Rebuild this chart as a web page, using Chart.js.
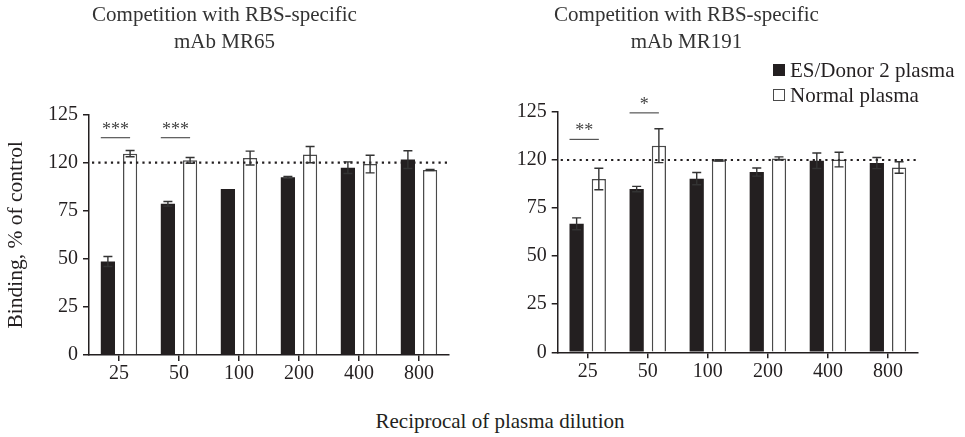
<!DOCTYPE html>
<html>
<head>
<meta charset="utf-8">
<script src="https://cdn.jsdelivr.net/npm/chart.js@4.4.1/dist/chart.umd.min.js"></script>
<style>
  body { margin: 0; background: #fff; width: 965px; height: 437px; position: relative; overflow: hidden; }
  canvas { position: absolute; top: 0; }
  #left { left: 0; }
  #right { left: 455px; }
  #xtitle { position: absolute; left: 250px; width: 500px; top: 409px; text-align: center;
            font-family: 'Liberation Serif', serif; font-size: 21px; color: #231f20; }
</style>
</head>
<body>
<canvas id="left" width="460" height="400"></canvas>
<canvas id="right" width="510" height="400"></canvas>
<div id="xtitle">Reciprocal of plasma dilution</div>
<script>
// data
var dilutions = ['25', '50', '100', '200', '400', '800']
var yTickLabels = ['0', '25', '50', '75', '120', '125']
var seriesNames = ['ES/Donor 2 plasma', 'Normal plasma']

var mr65Donor = [48.6, 78.6, 86.3, 92.4, 97.4, 101.6]
var mr65DonorErr = [2.6, 1.2, 0, 0.5, 3.0, 4.6]
var mr65Normal = [104.7, 101.2, 102.4, 104.2, 99.3, 96.2]
var mr65NormalErr = [1.6, 1.5, 3.6, 4.2, 4.6, 0.3]

var mr191Donor = [66.8, 84.9, 90.3, 93.7, 99.6, 98.4]
var mr191DonorErr = [3.1, 1.4, 3.2, 2.1, 4.0, 2.9]
var mr191Normal = [90.1, 107.4, 99.8, 100.8, 100.2, 96.1]
var mr191NormalErr = [5.6, 8.8, 0.3, 0.8, 3.8, 3.0]

var refLine = 100
var sigMR65 = [{cat: 0, text: '***', y: 113}, {cat: 1, text: '***', y: 113}]
var sigMR191 = [{cat: 0, text: '**', y: 110.7}, {cat: 1, text: '*', y: 124.5}]

const INK = '#231f20'
const FONT = 'Liberation Serif'

// error bars, dotted 100% line, significance marks
const extras = {
  id: 'extras',
  afterDatasetsDraw(chart, args, opts) {
    const ctx = chart.ctx
    const y = chart.scales.y
    const area = chart.chartArea
    ctx.save()
    // dotted reference line
    ctx.strokeStyle = INK
    ctx.lineWidth = 2.2
    ctx.setLineDash([2.2, 4.1])
    ctx.beginPath()
    ctx.moveTo(area.left + 3, y.getPixelForValue(refLine))
    ctx.lineTo(area.right, y.getPixelForValue(refLine))
    ctx.stroke()
    ctx.setLineDash([])
    // error bars
    chart.data.datasets.forEach(function (ds, di) {
      const meta = chart.getDatasetMeta(di)
      meta.data.forEach(function (bar, i) {
        const e = ds.errors[i]
        if (!e) return
        const top = y.getPixelForValue(ds.data[i] + e)
        const bot = y.getPixelForValue(ds.data[i] - e)
        ctx.strokeStyle = '#333'
        ctx.lineWidth = 1.4
        ctx.beginPath()
        ctx.moveTo(bar.x, top); ctx.lineTo(bar.x, bot)
        ctx.moveTo(bar.x - 4.5, top); ctx.lineTo(bar.x + 4.5, top)
        ctx.moveTo(bar.x - 4.5, bot); ctx.lineTo(bar.x + 4.5, bot)
        ctx.stroke()
      })
    })
    // significance
    const b0 = chart.getDatasetMeta(0).data
    const b1 = chart.getDatasetMeta(1).data
    opts.sig.forEach(function (s) {
      const x1 = b0[s.cat].x - b0[s.cat].width / 2
      const x2 = b1[s.cat].x
      const py = y.getPixelForValue(s.y)
      ctx.strokeStyle = '#555'
      ctx.lineWidth = 1.2
      ctx.beginPath()
      ctx.moveTo(x1, py); ctx.lineTo(x2, py)
      ctx.stroke()
      ctx.fillStyle = '#444'
      ctx.font = '18px ' + FONT
      ctx.textAlign = 'center'
      ctx.textBaseline = 'alphabetic'
      ctx.fillText(s.text, (x1 + x2) / 2, py - 3)
    })
    ctx.restore()
  }
}

// small two-row legend above the right panel
const sideLegend = {
  id: 'sideLegend',
  afterDraw(chart, args, opts) {
    if (!opts.show) return
    const ctx = chart.ctx
    ctx.save()
    ctx.font = '21px ' + FONT
    ctx.textBaseline = 'alphabetic'
    ctx.textAlign = 'left'
    chart.data.datasets.forEach(function (ds, i) {
      const base = opts.y + i * 25
      ctx.fillStyle = ds.backgroundColor
      ctx.fillRect(opts.x, base - 13, 12, 12)
      if (ds.borderWidth) {
        ctx.strokeStyle = ds.borderColor
        ctx.lineWidth = 1
        ctx.strokeRect(opts.x + 0.5, base - 12.5, 11, 11)
      }
      ctx.fillStyle = INK
      ctx.fillText(ds.label, opts.x + 17, base)
    })
    ctx.restore()
  }
}

function makeChart(id, titleLines, donor, donorErr, normal, normalErr, sig, cfg) {
  return new Chart(document.getElementById(id), {
    type: 'bar',
    data: {
      labels: dilutions,
      datasets: [{
        label: seriesNames[0],
        data: donor,
        errors: donorErr,
        backgroundColor: INK,
        borderWidth: 0,
        categoryPercentage: 0.74,
        barPercentage: 0.64
      }, {
        label: seriesNames[1],
        data: normal,
        errors: normalErr,
        backgroundColor: '#ffffff',
        borderColor: '#4a4a4a',
        borderWidth: 1.5,
        categoryPercentage: 0.74,
        barPercentage: 0.64
      }]
    },
    options: {
      responsive: false,
      animation: false,
      devicePixelRatio: 1,
      layout: { padding: { left: 0, right: cfg.padRight, top: 0, bottom: 0 } },
      plugins: {
        legend: { display: false },
        tooltip: { enabled: false },
        title: {
          display: true,
          text: titleLines,
          color: '#333',
          font: { family: FONT, size: 21, weight: 'normal', lineHeight: 1.3 },
          padding: { top: 2, bottom: cfg.titleGap }
        },
        extras: { sig: sig },
        sideLegend: cfg.legend
      },
      scales: {
        x: {
          afterFit: function (s) { s.height = cfg.xHeight },
          grid: { display: true, offset: false, drawOnChartArea: false, drawTicks: true, tickLength: 6, color: INK, lineWidth: 1.5 },
          border: { display: true, color: INK, width: 1.5 },
          ticks: { color: INK, padding: 1, font: { family: FONT, size: 20 } }
        },
        y: {
          min: 0,
          max: 125,
          afterFit: function (s) { s.width = cfg.yWidth },
          afterBuildTicks: function (s) {
            s.ticks = yTickLabels.map(function (t, i) { return { value: i * 25 } })
          },
          grid: { display: true, drawOnChartArea: false, drawTicks: true, tickLength: 6, color: INK, lineWidth: 1.5 },
          border: { display: true, color: INK, width: 1.5 },
          ticks: {
            color: INK, padding: 5, font: { family: FONT, size: 20 },
            callback: function (v, i) { return yTickLabels[i] }
          },
          title: {
            display: cfg.yTitle,
            text: 'Binding, % of control',
            color: INK,
            font: { family: FONT, size: 21.5 },
            padding: { top: 3, bottom: 0 }
          }
        }
      }
    },
    plugins: [extras, sideLegend]
  })
}

makeChart('left', ['Competition with RBS-specific', 'mAb MR65'],
  mr65Donor, mr65DonorErr, mr65Normal, mr65NormalErr, sigMR65,
  { padRight: 11, titleGap: 58, xHeight: 45, yWidth: 89, yTitle: true, legend: { show: false } })

makeChart('right', ['Competition with RBS-specific', 'mAb MR191'],
  mr191Donor, mr191DonorErr, mr191Normal, mr191NormalErr, sigMR191,
  { padRight: 47, titleGap: 55.3, xHeight: 47.7, yWidth: 102.7, yTitle: false, legend: { show: true, x: 318, y: 77 } })
</script>
</body>
</html>
